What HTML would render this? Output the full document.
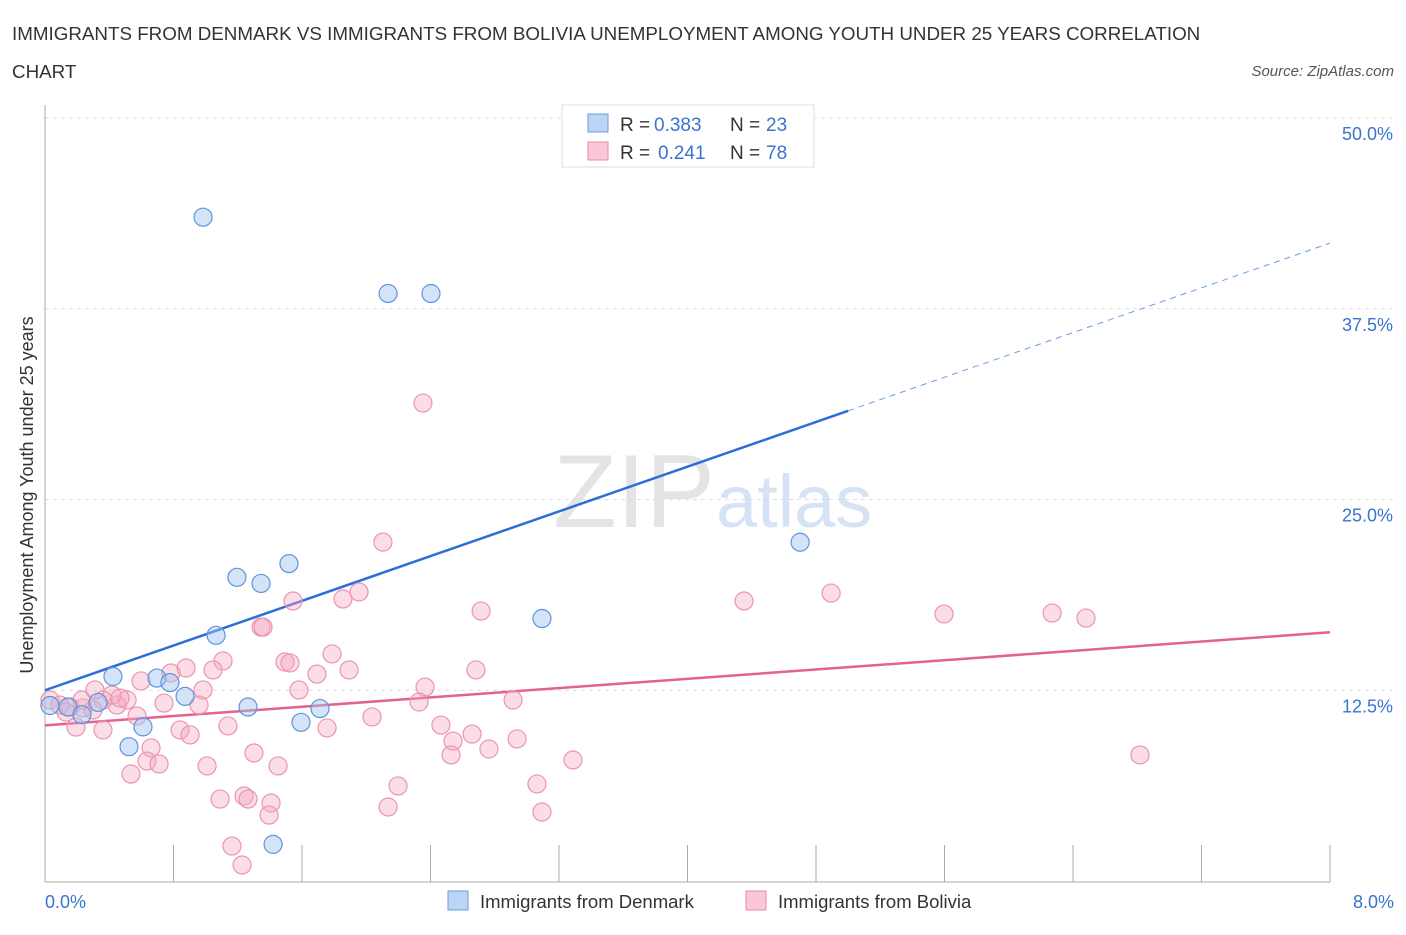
<!DOCTYPE html>
<html><head><meta charset="utf-8"><style>
body{margin:0;background:#fff;font-family:"Liberation Sans",sans-serif;}
svg text{font-family:"Liberation Sans",sans-serif;}
</style></head><body>
<svg id="c" width="1406" height="930">
<text x="12" y="40" font-size="18.8" fill="#333">IMMIGRANTS FROM DENMARK VS IMMIGRANTS FROM BOLIVIA UNEMPLOYMENT AMONG YOUTH UNDER 25 YEARS CORRELATION</text>
<text x="12" y="78" font-size="18.8" fill="#333">CHART</text>
<text x="1394" y="76" font-size="15" fill="#555" font-style="italic" text-anchor="end">Source: ZipAtlas.com</text>
<text x="715" y="527" font-size="104" fill="#e4e4e4" text-anchor="end" font-family="Liberation Serif">ZIP</text>
<text x="716" y="527" font-size="74" fill="#d6e3f5">atlas</text>
<g id="grid"></g><g id="axes"></g><g id="lines"></g><g id="pts"></g>
<text x="33" y="495" font-size="18" fill="#333" transform="rotate(-90 33 495)" text-anchor="middle">Unemployment Among Youth under 25 years</text>
<text x="45" y="908" font-size="18" fill="#3a73d0">0.0%</text>
<text x="1394" y="908" font-size="18" fill="#3a73d0" text-anchor="end">8.0%</text>
<g>
<rect x="562" y="105" width="252" height="62" fill="#fff" stroke="#ddd"/>
<rect x="588" y="114" width="20" height="18" fill="#bcd4f5" stroke="#6d9be0"/>
<rect x="588" y="142" width="20" height="18" fill="#f9c8d7" stroke="#e98aa8"/>
<text x="620" y="131" font-size="19" fill="#333">R =</text>
<text x="654" y="131" font-size="19" fill="#3a73d0">0.383</text>
<text x="730" y="131" font-size="19" fill="#333">N =</text>
<text x="766" y="131" font-size="19" fill="#3a73d0">23</text>
<text x="620" y="159" font-size="19" fill="#333">R =</text>
<text x="658" y="159" font-size="19" fill="#3a73d0">0.241</text>
<text x="730" y="159" font-size="19" fill="#333">N =</text>
<text x="766" y="159" font-size="19" fill="#3a73d0">78</text>
</g>
<g>
<rect x="448" y="891" width="20" height="19" fill="#bcd4f5" stroke="#6d9be0"/>
<text x="480" y="908" font-size="18.5" fill="#333">Immigrants from Denmark</text>
<rect x="746" y="891" width="20" height="19" fill="#f9c8d7" stroke="#e98aa8"/>
<text x="778" y="908" font-size="18.5" fill="#333">Immigrants from Bolivia</text>
</g>
</svg>
<script>
const yTicks=[12.5,25,37.5,50];
const yTickLabels=["12.5%","25.0%","37.5%","50.0%"];
const denX=[0.984,2.136,2.403,4.701,3.094,1.519,1.195,1.345,1.065,0.423,0.697,0.778,0.872,1.264,1.712,1.594,0.610,0.523,1.420,0.031,0.143,0.230,0.330];
const denY=[43.5,38.5,38.5,22.2,17.2,20.8,19.9,19.5,16.1,13.4,13.3,13.0,12.1,11.4,11.3,10.4,10.1,8.8,2.4,11.5,11.4,10.9,11.7];
const bolPx=[[261,627],[223,661],[213,670],[186,668],[171,673],[141,681],[203,690],[164,703],[199,705],[127,700],[117,705],[112,695],[103,700],[137,716],[76,727],[103,730],[180,730],[190,735],[228,726],[151,748],[147,761],[159,764],[131,774],[207,766],[254,753],[278,766],[220,799],[244,796],[248,799],[271,803],[269,815],[232,846],[242,865],[285,662],[290,663],[332,654],[317,674],[349,670],[299,690],[327,728],[50,700],[60,705],[70,707],[83,708],[93,710],[82,700],[383,542],[343,599],[359,592],[293,601],[263,627],[481,611],[476,670],[425,687],[419,702],[513,700],[372,717],[441,725],[453,741],[451,755],[472,734],[489,749],[517,739],[573,760],[398,786],[388,807],[537,784],[542,812],[423,403],[744,601],[831,593],[944,614],[1052,613],[1086,618],[1140,755],[120,698],[66,712],[95,690]];
const bolX=[],bolY=[];
bolPx.forEach(p=>{bolX.push(+((p[0]-45)*0.006226).toFixed(3));bolY.push(+((881-p[1])*0.06553).toFixed(2));});
const blueLine=[12.5,41.8], blueSolidEnd=5.0;
const pinkLine=[10.2,16.3];
const X0=45,X1=1330,Y0=881,Y1=118;
const xs=v=>X0+v/8*(X1-X0), ys=v=>Y0-v/50*(Y0-Y1);
const NS="http://www.w3.org/2000/svg";
function mk(t,a,p){const e=document.createElementNS(NS,t);for(const k in a)e.setAttribute(k,a[k]);p.appendChild(e);return e;}
const grid=document.getElementById('grid'),axes=document.getElementById('axes'),lines=document.getElementById('lines'),pts=document.getElementById('pts');
yTicks.forEach((t,i)=>{
 const g=mk('line',{x1:X0,x2:1394,y1:ys(t),y2:ys(t),stroke:'#ddd','stroke-dasharray':'4 4'},grid);
 
 
 const tx=mk('text',{x:1393,y:ys(t)+22,'font-size':18,fill:'#3a73d0','text-anchor':'end'},grid);
 tx.textContent=yTickLabels[i];
 
 
});
const ya=mk('line',{x1:X0,x2:X0,y1:105,y2:882,stroke:'#aaa'},axes);


const xa=mk('line',{x1:X0,x2:X1,y1:882,y2:882,stroke:'#aaa'},axes);


for(let i=1;i<=10;i++){const t=mk('line',{x1:xs(i*0.8),x2:xs(i*0.8),y1:845,y2:882,stroke:'#aaa'},axes);
 
 }
const ly=x=>blueLine[0]+(blueLine[1]-blueLine[0])*x/8;
const bl=mk('line',{x1:xs(0),y1:ys(blueLine[0]),x2:xs(blueSolidEnd),y2:ys(ly(blueSolidEnd)),stroke:'#2b6fd6','stroke-width':2.5},lines);


const bd=mk('line',{x1:xs(blueSolidEnd),y1:ys(ly(blueSolidEnd)),x2:xs(8),y2:ys(blueLine[1]),stroke:'#6d9be0','stroke-width':1,'stroke-dasharray':'6 5'},lines);


const pl=mk('line',{x1:xs(0),y1:ys(pinkLine[0]),x2:xs(8),y2:ys(pinkLine[1]),stroke:'#e4638d','stroke-width':2.5},lines);


bolX.forEach((x,i)=>{const c=mk('circle',{cx:xs(x),cy:ys(bolY[i]),r:9,fill:'rgba(246,170,195,0.4)',stroke:'#ec94b0','stroke-width':1.2},pts);
 
 });
denX.forEach((x,i)=>{const c=mk('circle',{cx:xs(x),cy:ys(denY[i]),r:9,fill:'rgba(160,195,240,0.45)',stroke:'#5f93dd','stroke-width':1.2},pts);
 
 });
</script>
</body></html>
